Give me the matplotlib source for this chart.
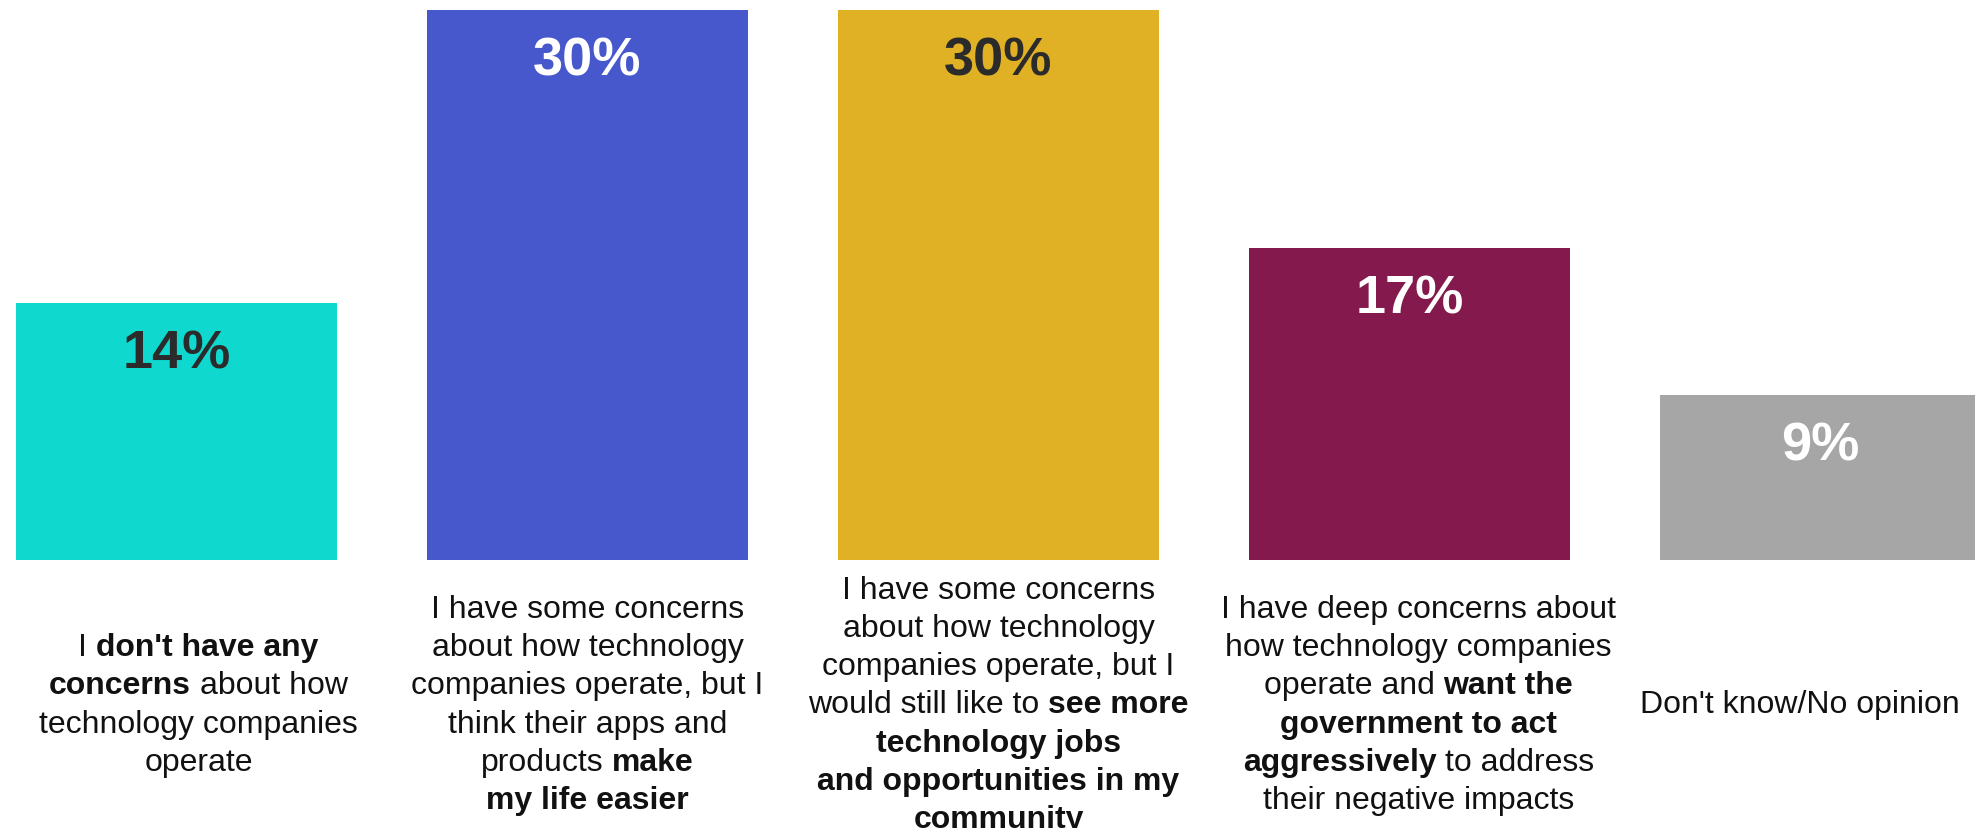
import matplotlib
matplotlib.use("Agg")
import matplotlib.pyplot as plt
from matplotlib.transforms import IdentityTransform

plt.rcParams["font.family"] = ["Liberation Sans", "DejaVu Sans"]

values = [14, 30, 30, 17, 9]
value_labels = ["14%", "30%", "30%", "17%", "9%"]
bar_colors = ["#0fd8cf", "#4758cd", "#e0b124", "#84194e", "#a6a6a6"]
value_colors = ["#2b2b2b", "#ffffff", "#2b2b2b", "#ffffff", "#ffffff"]

# category labels: lines of (text, bold) pieces
label_1 = [
    [("I", False), ("don't have any", True)],
    [("concerns", True), ("about how", False)],
    [("technology companies", False)],
    [("operate", False)],
]
label_2 = [
    [("I have some concerns", False)],
    [("about how technology", False)],
    [("companies operate, but I", False)],
    [("think their apps and", False)],
    [("products", False), ("make", True)],
    [("my life easier", True)],
]
label_3 = [
    [("I have some concerns", False)],
    [("about how technology", False)],
    [("companies operate, but I", False)],
    [("would still like to", False), ("see more", True)],
    [("technology jobs", True)],
    [("and opportunities in my", True)],
    [("community", True)],
]
label_4 = [
    [("I have deep concerns about", False)],
    [("how technology companies", False)],
    [("operate and", False), ("want the", True)],
    [("government to act", True)],
    [("aggressively", True), ("to address", False)],
    [("their negative impacts", False)],
]
label_5 = [
    [("Don't know/No opinion", False)],
]
category_labels = [label_1, label_2, label_3, label_4, label_5]
label_shift = [22, 0, 0, 9, -21]  # px, horizontal nudge of each label block

W, H = 1975, 829
fig = plt.figure(figsize=(W / 100, H / 100), dpi=100)
ax = fig.add_axes([0, 0, 1, 1])
ax.set_axis_off()

x = list(range(len(values)))
ax.bar(x, values, width=0.781, color=bar_colors, zorder=2)
ax.set_xlim(-0.4294, 4.376)
ax.set_ylim(-14.618, 30.6)

for xi, v, lab, c in zip(x, values, value_labels, value_colors):
    ax.annotate(lab, (xi, v), xytext=(0, -64), textcoords="offset pixels",
                ha="center", va="baseline", fontsize=39, fontweight="bold",
                color=c, zorder=3)

# labels under the bars, built piece by piece to allow bold words
fs = 23
line_h = 38.3
center_y = H - 702
fig.canvas.draw()
r = fig.canvas.get_renderer()


def text_width(s, bold):
    t = fig.text(0, 0, s, fontsize=fs, fontweight="bold" if bold else "normal")
    w = t.get_window_extent(r).width
    t.remove()
    return w


space_w = text_width("a a", False) - text_width("aa", False)

for xi, lines, shift in zip(x, category_labels, label_shift):
    cx = ax.transData.transform((xi, 0))[0] + shift
    n = len(lines)
    for j, pieces in enumerate(lines):
        y = center_y + ((n - 1) / 2 - j) * line_h - 11.5
        widths = [text_width(s, b) for s, b in pieces]
        total = sum(widths) + space_w * (len(pieces) - 1)
        x0 = cx - total / 2
        for (s, b), w in zip(pieces, widths):
            fig.text(x0, y, s, fontsize=fs, transform=IdentityTransform(),
                     fontweight="bold" if b else "normal",
                     ha="left", va="baseline", color="#111111")
            x0 += w + space_w

fig.savefig("out.png", dpi=100)
